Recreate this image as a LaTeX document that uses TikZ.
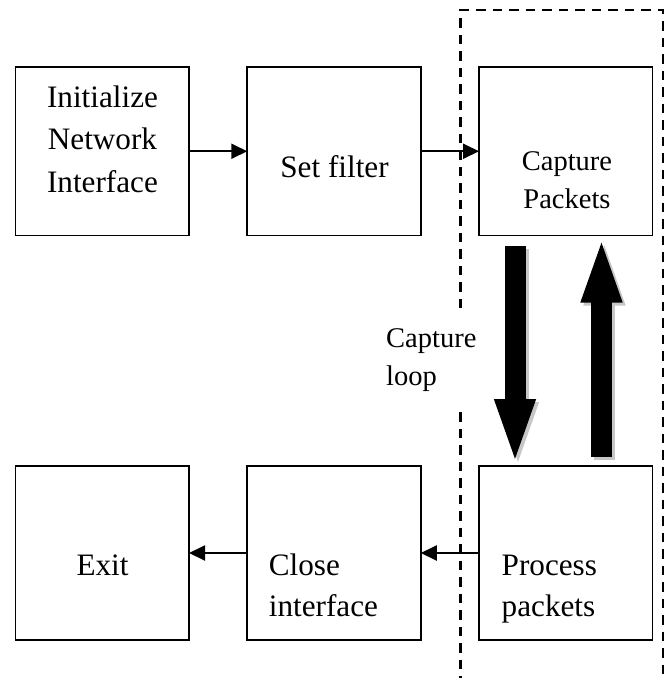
\documentclass[tikz,border=0pt]{standalone}
\usepackage{fontspec}
\setmainfont{Liberation Serif}
\usetikzlibrary{arrows.meta,calc}
\begin{document}
\begin{tikzpicture}[x=1pt,y=-1pt,
  stage/.style={draw,line width=1.9pt,minimum width=173.5pt,minimum height=168.5pt,inner sep=0pt,outer sep=0pt},
  stagelow/.style={stage,minimum height=174pt},
  txt/.style={inner sep=0pt,font=\fontsize{31.2}{36}\selectfont},
  smalltxt/.style={inner sep=0pt,font=\fontsize{28.5}{34}\selectfont},
  flow/.style={line width=1.9pt,-{Triangle[length=16pt,width=15pt]}},
  bigarrow/.style={line width=21pt,-{Triangle[length=67pt,width=36pt]}},
  bigshadow/.style={bigarrow,draw=black!22,transform canvas={shift={(3pt,-3pt)}}},
  loopframe/.style={line width=2.3pt,dash pattern=on 9.5pt off 7pt}
]
\useasboundingbox (0,0) rectangle (670,678);
\fill[white] (0,0) rectangle (670,678);

% dashed frame around the capture loop (open at the bottom, gap on the left)
\coordinate (fa) at (460.5,308);
\coordinate (fb) at (460.5,10);
\coordinate (fc) at (663,10);
\coordinate (fd) at (663,690);
\coordinate (fe) at (460.5,412);
\coordinate (ff) at (460.5,690);
\draw[loopframe] (fa) -- (fb) -- (fc) -- (fd);
\draw[loopframe] (fe) -- (ff);

% processing stages
\node[stage] (init)   at (102.25,151.25) {};
\node[stage] (filter) at (334,151.25) {};
\node[stage] (cap)    at (565.75,151.25) {};
\node[stagelow] (exit)  at (102.25,553) {};
\node[stagelow] (close) at (334,553) {};
\node[stagelow] (proc)  at (565.75,553) {};

% sequence arrows
\draw[flow] (init) -- (filter);
\draw[flow] (filter) -- (cap);
\draw[flow] (proc) -- (close);
\draw[flow] (close) -- (exit);

% capture loop arrows with drop shadows
\draw[bigshadow] ([xshift=-50.75pt,yshift=-10.5pt]cap.south) -- ([xshift=-50.75pt]proc.north);
\draw[bigshadow] ([xshift=35.75pt,yshift=9pt]proc.north) -- ([xshift=35.75pt]cap.south);
\draw[bigarrow] ([xshift=-50.75pt,yshift=-10.5pt]cap.south) -- ([xshift=-50.75pt]proc.north);
\draw[bigarrow] ([xshift=35.75pt,yshift=9pt]proc.north) -- ([xshift=35.75pt]cap.south);

% labels
\node[txt,anchor=base] (init1) at (102.5,107) {Initialize};
\node[txt,anchor=base] (init2) at (102.5,149.5) {Network};
\node[txt,anchor=base] (init3) at (102.5,192) {Interface};
\node[txt,anchor=base] (filt1) at (334.5,177) {Set filter};
\node[smalltxt,anchor=base] (cap1) at (567,170) {Capture};
\node[smalltxt,anchor=base] (cap2) at (567,208) {Packets};
\node[smalltxt,anchor=base west] (loop1) at (386,347) {Capture};
\node[smalltxt,anchor=base west] (loop2) at (386,385) {loop};
\node[txt,anchor=base] (exit1) at (102.5,575) {Exit};
\node[txt,anchor=base west] (close1) at (268.7,575) {Close};
\node[txt,anchor=base west] (close2) at (268.7,616) {interface};
\node[txt,anchor=base west] (proc1) at (501.5,575) {Process};
\node[txt,anchor=base west] (proc2) at (501.5,616) {packets};
\end{tikzpicture}
\end{document}
